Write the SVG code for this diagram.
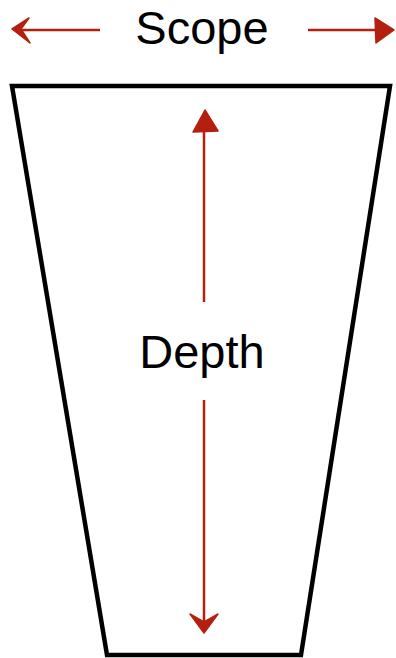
<svg xmlns="http://www.w3.org/2000/svg" width="396" height="658" viewBox="0 0 396 658">
<style>
.lbl{font-family:"Liberation Sans",Arial,sans-serif;font-size:47px;fill:#000;text-anchor:middle}
.arr{stroke:#b3200f;stroke-width:2.5;fill:none}
.head{fill:#b3200f;stroke:#b3200f;stroke-width:1.5;stroke-linejoin:round}
</style>
<g id="funnel">
<polygon points="12,86 390,86 301,655 107,655" fill="#fff" stroke="#000" stroke-width="4.5"/>
</g>
<g id="scope">
<text class="lbl" x="202" y="44">Scope</text>
</g>
<g id="depth">
<text class="lbl" x="202" y="368">Depth</text>
</g>
<g id="connectors">
<line class="arr" x1="100" y1="30" x2="16" y2="30"/>
<path class="head" d="M12,29 L29,18 L21,29 L30,43 Z"/>
<line class="arr" x1="308" y1="30" x2="380" y2="30"/>
<path class="head" d="M394,30 L375,18 L376,43 Z"/>
<line class="arr" x1="204" y1="302" x2="204" y2="130"/>
<path class="head" d="M205,110 L193,132 L218,131 Z"/>
<line class="arr" x1="204" y1="400" x2="204" y2="628"/>
<path class="head" d="M204,633 L190,614 L204,622 L218,614 Z"/>
</g>
</svg>
